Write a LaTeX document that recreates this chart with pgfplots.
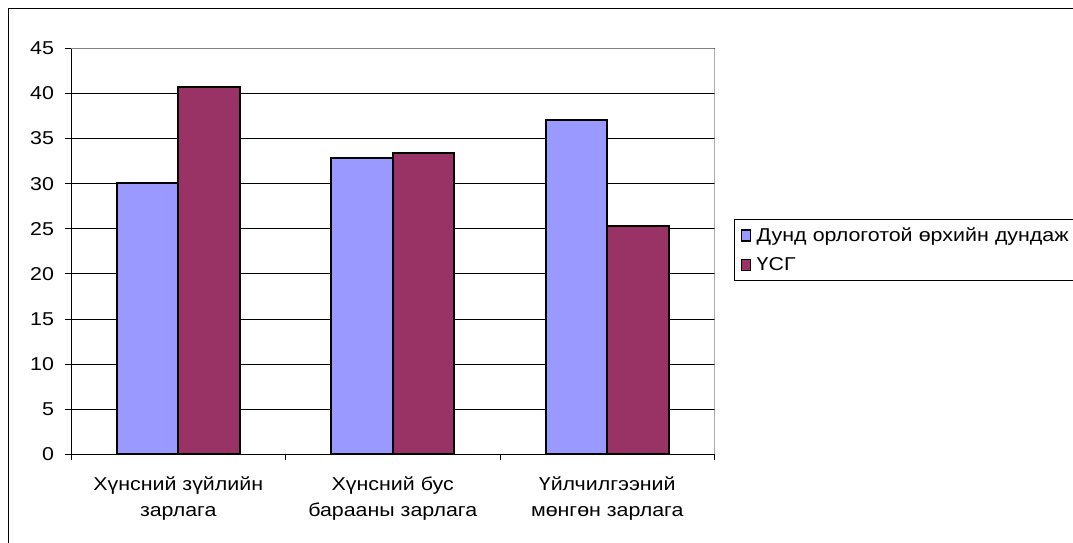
\documentclass[border=0pt]{standalone}
\usepackage{fontspec}
\setmainfont{Liberation Sans}[FakeStretch=1.15]
\usepackage{pgfplots}
\pgfplotsset{compat=1.18}
\definecolor{cblue}{HTML}{9999FF}
\definecolor{cred}{HTML}{993366}
\begin{document}
\begin{tikzpicture}[font=\fontsize{18.6bp}{26bp}\selectfont]
\useasboundingbox (0,0) rectangle (1073bp,543bp);
\draw[black, line width=1bp] (8.3bp,-20bp) rectangle (1090bp,534.3bp);
\begin{axis}[
  at={(71bp,88.7bp)}, anchor=south west, scale only axis,
  width=643.5bp, height=406bp,
  ymin=0, ymax=45, ytick={0,5,...,45},
  xmin=-0.5, xmax=2.5,
  xtick={-0.5,0.5,1.5,2.5}, xticklabels={},
  extra x ticks={0,1,2},
  extra x tick labels={Хүнсний зүйлийн\\зарлага, Хүнсний бус\\барааны зарлага, Үйлчилгээний\\мөнгөн зарлага},
  extra x tick style={major tick length=0pt, grid=none, tick style={draw=none}},
  xticklabel style={align=center, yshift=-18.5bp, font=\fontsize{18.6bp}{26.5bp}\selectfont},
  yticklabel style={xshift=-7.5bp},
  /pgf/number format/assume math mode=true,
  axis lines*=left,
  axis line style={black, line width=1bp},
  tick align=outside, major tick length=6bp,
  tick style={black, line width=0.8bp},
  ymajorgrids, grid style={black, line width=0.8bp},
  ybar=0pt, bar width=61.5bp,
  legend style={at={(1.0308,0.5788)}, anchor=north west, draw=black, line width=0.8bp,
     inner xsep=3bp, inner ysep=6bp, row sep=11bp, font=\fontsize{18.6bp}{22bp}\selectfont,
     cells={anchor=west}, nodes={text width=330bp}},
  legend image code/.code={\draw[#1, line width=1.5bp] (3bp,-5.5bp) rectangle (12bp,5.5bp); \path (0,0) (15bp,0);},
  legend cell align=left,
]
\addplot[fill=cblue, draw=black, line width=2bp] coordinates {(0,30.1) (1,32.8) (2,37.1)};
\addplot[fill=cred, draw=black, line width=2bp] coordinates {(0,40.7) (1,33.4) (2,25.3)};
\legend{Дунд орлоготой өрхийн дундаж, ҮСГ}
\draw[gray, line width=1bp] (rel axis cs:0,1) -- (rel axis cs:1,1) -- (rel axis cs:1,0);
\end{axis}
\end{tikzpicture}
\end{document}
